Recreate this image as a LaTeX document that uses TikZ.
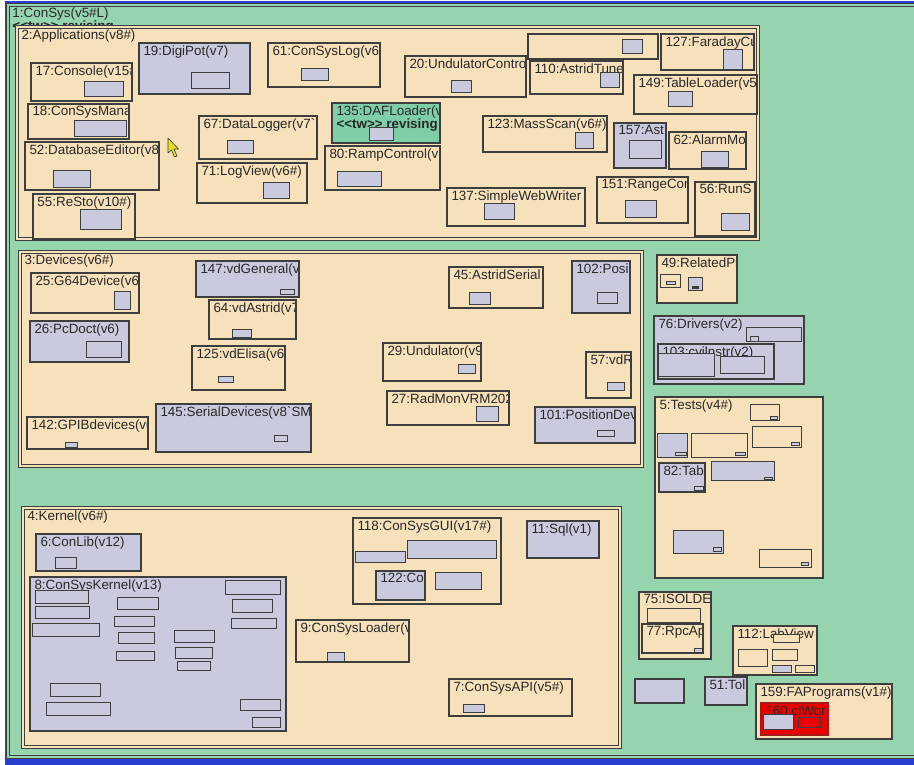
\documentclass[tikz,border=0pt]{standalone}
\usepackage{fontspec}
\newfontfamily\lblfont{Liberation Sans}[Ligatures=TeXOff]
\usepackage{tikz}
\definecolor{xsea}{RGB}{150,212,176}
\definecolor{xwheat}{RGB}{247,225,186}
\definecolor{xlavender}{RGB}{202,202,222}
\definecolor{xink}{RGB}{62,62,62}
\definecolor{xroyal}{RGB}{40,64,208}
\definecolor{xcrimson}{RGB}{235,0,0}
\definecolor{xmint}{RGB}{128,206,168}
\definecolor{xtext}{RGB}{40,40,40}
\definecolor{xlemon}{RGB}{232,222,40}

\begin{document}
\begin{tikzpicture}[x=1pt, y=-1pt,
  pkg/.style={draw=xink, fill=#1, line width=1.1pt, anchor=north west,
              inner sep=0pt, outer sep=0pt},
  pkg/.default=xwheat,
  group/.style={pkg=#1, line width=0.8pt, double=#1, double distance=1.6pt},
  group/.default=xwheat,
  part/.style={pkg=#1, line width=1pt},
  part/.default=xlavender,
  wh/.style 2 args={minimum width=#1, minimum height=#2},
  tag/.style={path picture={\node[tagtext] at (path picture bounding box.north west) {#1};}},
  tagtext/.style={anchor=north west, draw=none, fill=none, path picture={},
                  minimum width=0pt, minimum height=0pt, inner xsep=4.5pt, inner ysep=2.3pt,
                  align=left, text=xtext, font=\lblfont\fontsize{13.4}{11.5}\selectfont}
]
  \useasboundingbox (0,0) rectangle (914,765);
  \clip (0,0) rectangle (914,765);
  \fill[white] (0,0) rectangle (914,765);
  \fill[xroyal] (5,1) rectangle (920,770);
  \node[group=xsea, wh={915}{752}, tag={1:ConSys(v5\#L)\\ \textbf{<<tw>> revising}}] (consys) at (8,5) {};

  % applications
  \node[group, wh={741}{212}, tag={2:Applications(v8\#)}] (apps) at (17,27) {};
  \node[pkg=xlavender, wh={111}{51}, tag={19:DigiPot(v7)}] (digiPot) at (139,43) {};
  \node[part, wh={38}{16}] (digiPot-in) at (191,73) {};
  \node[pkg, wh={112}{44}, tag={61:ConSysLog(v6\#}] (conSysLog) at (268,43) {};
  \node[part, wh={27}{12}] (conSysLog-in) at (301,69) {};
  \node[pkg, wh={121}{41}, tag={20:UndulatorContro}] (undulatorCtl) at (405,56) {};
  \node[part, wh={20}{12}] (undulatorCtl-in) at (451,81) {};
  \node[pkg, wh={101}{38}, tag={17:Console(v15\#}] (console) at (31,63) {};
  \node[part, wh={39}{15}] (console-in) at (84,82) {};
  \node[pkg, wh={101}{35}, tag={18:ConSysMana}] (conSysMana) at (28,104) {};
  \node[part, wh={52}{16}] (conSysMana-in) at (74,121) {};
  \node[pkg, wh={134}{48}, tag={52:DatabaseEditor(v8}] (dbEditor) at (25,142) {};
  \node[part, wh={37}{17}] (dbEditor-in) at (53,171) {};
  \node[pkg, wh={102}{45}, tag={55:ReSto(v10\#)}] (reSto) at (33,194) {};
  \node[part, wh={41}{20}] (reSto-in) at (80,210) {};
  \node[pkg, wh={118}{43}, tag={67:DataLogger(v7``}] (dataLogger) at (199,116) {};
  \node[part, wh={26}{13}] (dataLogger-in) at (227,141) {};
  \node[pkg, wh={110}{40}, tag={71:LogView(v6\#)}] (logView) at (197,163) {};
  \node[part, wh={26}{16}] (logView-in) at (263,183) {};
  \node[pkg=xmint, wh={108}{40}, tag={135:DAFLoader(v\\ \textbf{<<tw>> revising}}] (dafLoader) at (332,103) {};
  \node[part, wh={24}{13}] (dafLoader-in) at (369,128) {};
  \node[pkg, wh={115}{44}, tag={80:RampControl(v1}] (rampControl) at (325,146) {};
  \node[part, wh={44}{15}] (rampControl-in) at (337,172) {};
  \node[pkg, wh={130}{25}] (blank) at (528,34) {};
  \node[part, wh={20}{14}] (blank-in) at (622,40) {};
  \node[pkg, wh={93}{36}, tag={127:FaradayCu}] (faradayCup) at (661,34) {};
  \node[part, wh={19}{20}] (faradayCup-in) at (723,50) {};
  \node[pkg, wh={93}{33}, tag={110:AstridTune}] (astridTune) at (530,61) {};
  \node[part, wh={19}{15}] (astridTune-in) at (600,73) {};
  \node[pkg, wh={123}{39}, tag={149:TableLoader(v5\#}] (tableLoader) at (634,75) {};
  \node[part, wh={24}{15}] (tableLoader-in) at (668,92) {};
  \node[pkg, wh={124}{36}, tag={123:MassScan(v6\#)}] (massScan) at (483,116) {};
  \node[part, wh={18}{16}] (massScan-in) at (575,133) {};
  \node[pkg=xlavender, wh={52}{45}, tag={157:Ast}] (ast) at (614,123) {};
  \node[part, wh={32}{18}] (ast-in) at (629,141) {};
  \node[pkg, wh={77}{37}, tag={62:AlarmMo}] (alarmMo) at (669,132) {};
  \node[part, wh={27}{16}] (alarmMo-in) at (701,152) {};
  \node[pkg, wh={138}{38}, tag={137:SimpleWebWriter}] (webWriter) at (447,188) {};
  \node[part, wh={30}{16}] (webWriter-in) at (484,204) {};
  \node[pkg, wh={91}{46}, tag={151:RangeCon}] (rangeCon) at (597,177) {};
  \node[part, wh={31}{17}] (rangeCon-in) at (625,201) {};
  \node[pkg, wh={60}{54}, tag={56:RunS}] (runS) at (695,182) {};
  \node[part, wh={28}{17}] (runS-in) at (721,214) {};

  % devices
  \node[group, wh={622}{214}, tag={3:Devices(v6\#)}] (devices) at (20,252) {};
  \node[pkg, wh={108}{40}, tag={25:G64Device(v6\#}] (g64) at (31,273) {};
  \node[part, wh={16}{18}] (g64-in) at (114,291) {};
  \node[pkg=xlavender, wh={99}{41}, tag={26:PcDoct(v6)}] (pcDoct) at (30,321) {};
  \node[part, wh={35}{16}] (pcDoct-in) at (86,341) {};
  \node[pkg=xlavender, wh={103}{36}, tag={147:vdGeneral(v7}] (vdGeneral) at (196,261) {};
  \node[part, wh={14}{5}] (vdGeneral-in) at (280,289) {};
  \node[pkg, wh={87}{39}, tag={64:vdAstrid(v7}] (vdAstrid) at (209,300) {};
  \node[part, wh={19}{8}] (vdAstrid-in) at (232,329) {};
  \node[pkg, wh={93}{44}, tag={125:vdElisa(v6\#}] (vdElisa) at (192,346) {};
  \node[part, wh={15}{6}] (vdElisa-in) at (218,376) {};
  \node[pkg, wh={121}{32}, tag={142:GPIBdevices(v6}] (gpib) at (27,417) {};
  \node[part, wh={12}{5}] (gpib-in) at (65,442) {};
  \node[pkg=xlavender, wh={155}{48}, tag={145:SerialDevices(v8`SM}] (serialDev) at (156,404) {};
  \node[part, wh={13}{6}] (serialDev-in) at (274,435) {};
  \node[pkg, wh={98}{38}, tag={29:Undulator(v9}] (undulator) at (383,343) {};
  \node[part, wh={17}{9}] (undulator-in) at (458,364) {};
  \node[pkg, wh={122}{34}, tag={27:RadMonVRM202}] (radMon) at (387,391) {};
  \node[part, wh={22}{15}] (radMon-in) at (476,406) {};
  \node[pkg, wh={94}{41}, tag={45:AstridSerial}] (astridSerial) at (449,267) {};
  \node[part, wh={21}{12}] (astridSerial-in) at (469,292) {};
  \node[pkg=xlavender, wh={58}{52}, tag={102:Posi}] (posi) at (572,261) {};
  \node[part, wh={20}{11}] (posi-in) at (597,292) {};
  \node[pkg, wh={45}{46}, tag={57:vdR}] (vdR) at (586,352) {};
  \node[part, wh={17}{8}] (vdR-in) at (607,382) {};
  \node[pkg=xlavender, wh={100}{36}, tag={101:PositionDev}] (positionDev) at (535,407) {};
  \node[part, wh={17}{6}] (positionDev-in) at (597,430) {};

  % right column
  \node[pkg, wh={80}{48}, tag={49:RelatedPr}] (relatedPr) at (657,255) {};
  \node[part=xwheat, wh={20}{13}] (relatedPr-a) at (660,274) {};
  \node[part, wh={9}{3}] (relatedPr-a-in) at (666,281) {};
  \node[part, wh={14}{13}] (relatedPr-b) at (688,277) {};
  \node[part=xink, wh={6}{2}] (relatedPr-b-in) at (692,286) {};
  \node[pkg=xlavender, line width=1.8pt, wh={150}{68}, tag={76:Drivers(v2)}] (drivers) at (654,316) {};
  \node[part, wh={55}{14}] (drivers-a) at (746,327) {};
  \node[part, wh={8}{5}] (drivers-a-in) at (750,336) {};
  \node[pkg=xlavender, wh={116}{35}, tag={103:cvilnstr(v2)}] (cvilnstr) at (658,344) {};
  \node[part, wh={56}{23}] (cvilnstr-a) at (658,353) {};
  \node[part, wh={44}{17}] (cvilnstr-b) at (720,356) {};

  \node[pkg, line width=1.8pt, wh={168}{181}, tag={5:Tests(v4\#)}] (tests) at (655,397) {};
  \foreach \x/\y/\w/\h/\f/\tx/\ty/\tw/\th [count=\i] in {
      750/404/29/16/xwheat/770/416/7/3,
      752/426/49/21/xwheat/791/442/8/3,
      657/433/30/24/xlavender/675/452/11/3,
      691/433/56/24/xwheat/735/452/10/3,
      711/461/63/19/xlavender/764/477/8/2,
      673/530/50/23/xlavender/713/547/8/4,
      759/549/52/18/xwheat/801/562/7/3}
  {
    \node[part=\f, wh={\w}{\h}] (test\i) at (\x,\y) {};
    \node[part, wh={\tw}{\th}] (test\i-in) at (\tx,\ty) {};
  }
  \node[pkg=xlavender, wh={46}{29}, tag={82:Tab}] (tab) at (659,463) {};
  \node[part, wh={9}{4}] (tab-in) at (694,486) {};

  % kernel
  \node[group, wh={597}{239}, tag={4:Kernel(v6\#)}] (kernel) at (23,508) {};
  \node[pkg=xlavender, wh={105}{37}, tag={6:ConLib(v12)}] (conLib) at (36,534) {};
  \node[part, wh={21}{11}] (conLib-in) at (55,557) {};
  \node[pkg=xlavender, wh={256}{154}, tag={8:ConSysKernel(v13)}] (conSysKernel) at (30,577) {};
  \foreach \x/\y/\w/\h [count=\i] in {
      35/590/53/13, 35/606/54/12, 32/623/67/13, 117/597/41/12, 114/616/40/10,
      118/632/36/11, 116/651/38/9, 174/630/40/12, 175/647/37/11, 177/661/33/9,
      225/580/55/14, 232/599/40/13, 231/618/45/10, 50/683/50/13, 46/702/64/13,
      240/699/40/11, 252/717/28/10}
    \node[part, wh={\w}{\h}] (kern\i) at (\x,\y) {};
  \node[pkg, wh={148}{86}, tag={118:ConSysGUI(v17\#)}] (conSysGui) at (353,518) {};
  \node[part, wh={50}{11}] (conSysGui-a) at (355,551) {};
  \node[part, wh={89}{18}] (conSysGui-b) at (407,540) {};
  \node[pkg=xlavender, wh={49}{29}, tag={122:Co}] (co) at (376,571) {};
  \node[part, wh={46}{17}] (conSysGui-c) at (435,572) {};
  \node[pkg=xlavender, wh={72}{37}, tag={11:Sql(v1)}] (sql) at (527,521) {};
  \node[pkg, wh={113}{42}, tag={9:ConSysLoader(v}] (conSysLoader) at (296,620) {};
  \node[part, wh={17}{9}] (conSysLoader-in) at (327,652) {};
  \node[pkg, wh={123}{37}, tag={7:ConSysAPI(v5\#)}] (conSysApi) at (449,679) {};
  \node[part, wh={21}{8}] (conSysApi-in) at (463,704) {};

  % loose packages
  \node[pkg, wh={72}{67}, tag={75:ISOLDE}] (isolde) at (639,592) {};
  \node[part=xwheat, wh={53}{14}] (isolde-a) at (647,608) {};
  \node[pkg, wh={61}{29}, tag={77:RpcAp}] (rpcAp) at (642,624) {};
  \node[part, wh={8}{4}] (rpcAp-in) at (694,648) {};
  \node[pkg=xlavender, wh={49}{24}] (spare) at (635,679) {};
  \node[pkg=xlavender, wh={42}{28}, tag={51:Tol}] (tol) at (705,677) {};
  \node[pkg, wh={84}{49}, tag={112:LabView}] (labView) at (733,626) {};
  \node[part=xwheat, wh={26}{8}] (labView-a) at (773,634) {};
  \node[part=xwheat, wh={29}{17}] (labView-b) at (738,649) {};
  \node[part=xwheat, wh={25}{11}] (labView-c) at (772,649) {};
  \node[part, wh={19}{7}] (labView-d) at (772,665) {};
  \node[part=xwheat, wh={19}{7}] (labView-e) at (795,665) {};
  \node[pkg, wh={136}{55}, tag={159:FAPrograms(v1\#)}] (faPrograms) at (756,684) {};
  \node[pkg=xcrimson, draw=xcrimson!60!xink, wh={67}{32}, tag={160:clWor}] (clWor) at (761,703) {};
  \node[part, wh={30}{15}] (clWor-a) at (763,714) {};
  \node[part=xcrimson, wh={22}{10}] (clWor-b) at (798,717) {};

  % mouse pointer
  \filldraw[fill=xlemon, draw=xink, line width=0.6pt, line join=round]
    (168,138) -- (168,153) -- (171.5,150) -- (174.5,157) -- (177,156)
    -- (174,149) -- (178.5,149) -- cycle;
\end{tikzpicture}
\end{document}
